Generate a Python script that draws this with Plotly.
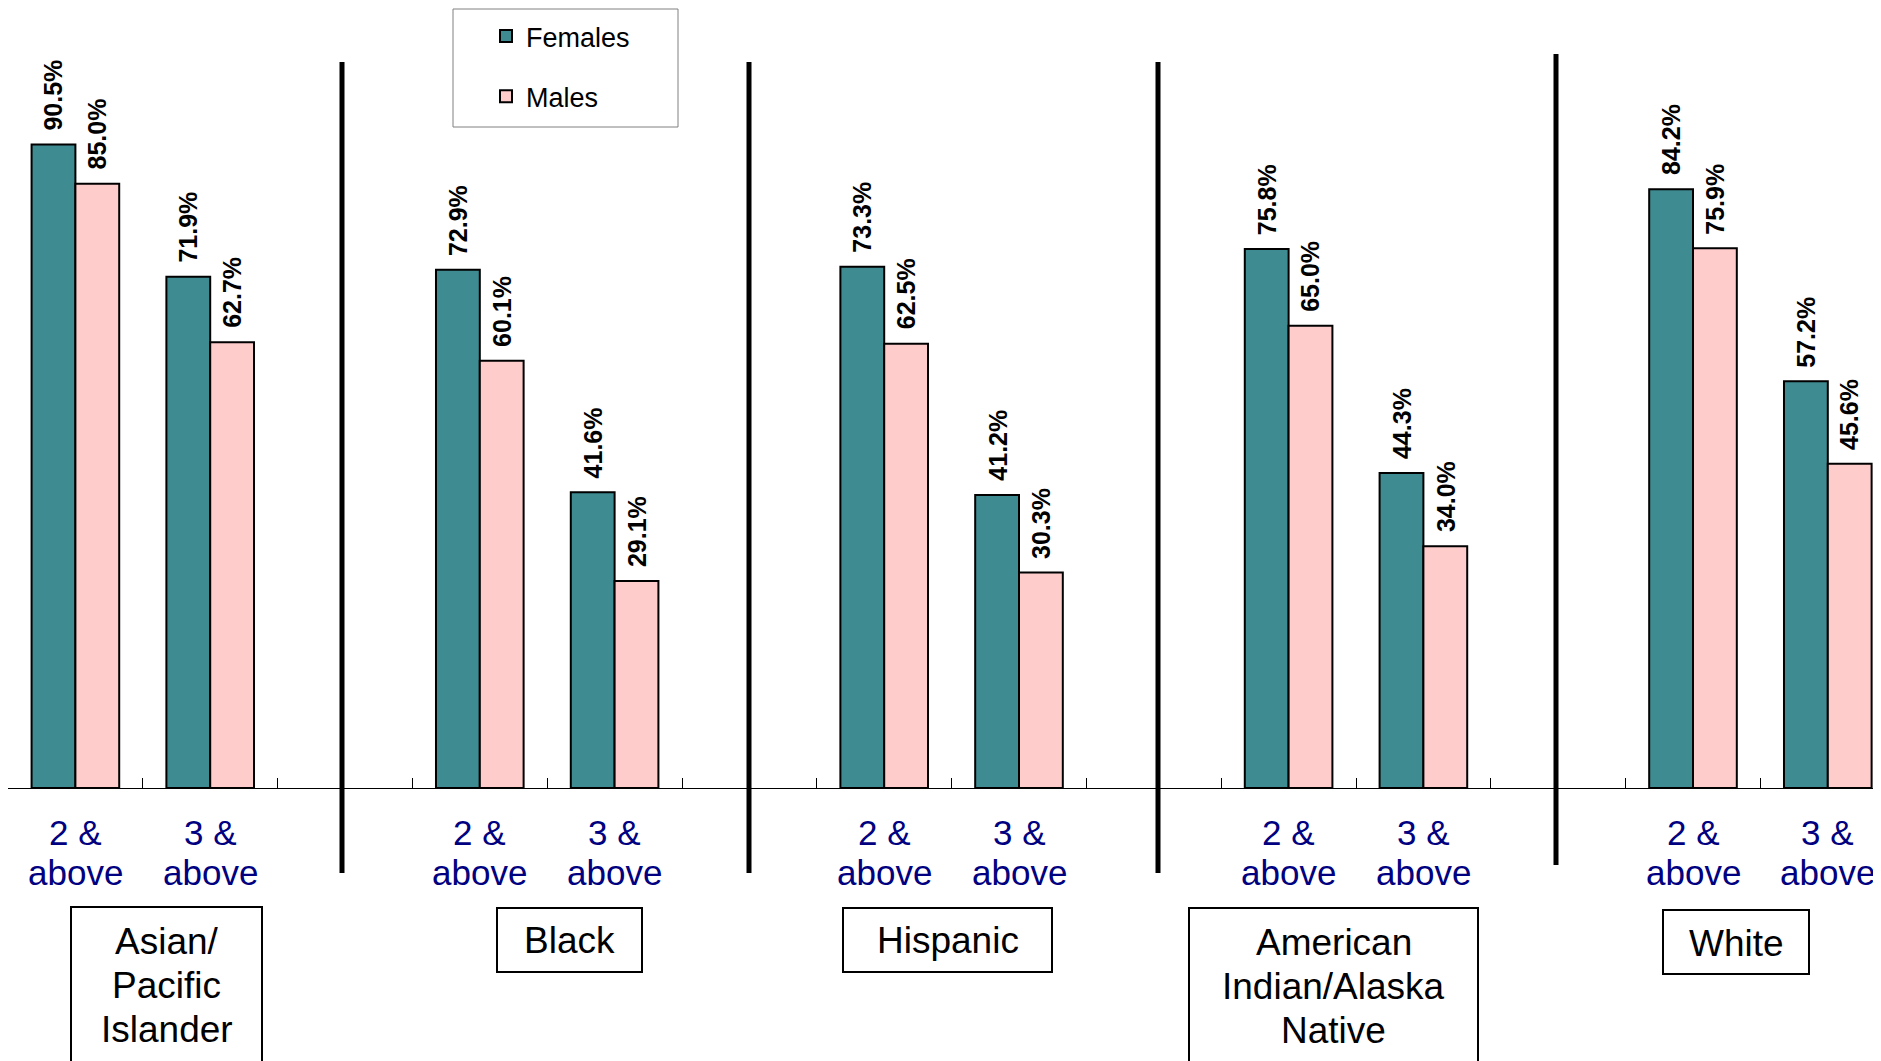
import plotly.graph_objects as go

# ---------------- data ----------------
groups = ["Asian/<br>Pacific<br>Islander", "Black", "Hispanic",
          "American<br>Indian/Alaska<br>Native", "White"]
levels_top = ["2 &", "3 &"]
levels_bottom = ["above", "above"]
females = [90.5, 71.9, 72.9, 41.6, 73.3, 41.2, 75.8, 44.3, 84.2, 57.2]
males = [85.0, 62.7, 60.1, 29.1, 62.5, 30.3, 65.0, 34.0, 75.9, 45.6]

# ---------------- geometry helpers ----------------
W, H = 1881, 1061
OFF = 8            # page body margin
BASE = 788 - OFF   # baseline, figure pixels
PL, PR, PT, PB = 0, 0, 0, H - BASE
pw = W - PL - PR
ph = H - PT - PB
SLOT = 134.8       # pixels per category slot
PX_PER_PCT = 7.11


def px(xpix):  # screenshot pixel -> paper x
    return (xpix - OFF - PL) / pw


def py(ypix):  # screenshot pixel -> paper y
    return (BASE - (ypix - OFF)) / ph


# category slot positions: two levels per group, blank slot between groups
xs = [3 * g + l for g in range(len(groups)) for l in range(len(levels_top))]

FEM = "#3E8B91"
MAL = "#FFCCCC"
FONT = "Arial, Liberation Sans, sans-serif"

fig = go.Figure()
fig.add_trace(go.Bar(x=xs, y=females, name="Females", legendgroup="f",
                     marker=dict(color=FEM, line=dict(color="black", width=2))))
fig.add_trace(go.Bar(x=xs, y=males, name="Males", legendgroup="m",
                     marker=dict(color=MAL, line=dict(color="black", width=2))))

BARGAP = 0.35
half = (1 - BARGAP) / 4
annotations = []
# value labels
for x, f, m in zip(xs, females, males):
    for off, v in ((-half, f), (half, m)):
        annotations.append(dict(x=x + off, y=v, xref="x", yref="y",
                                text=f"{v:.1f}%", textangle=-90, showarrow=False,
                                xanchor="center", yanchor="bottom", yshift=12,
                                font=dict(family=FONT, size=25, color="black", weight="bold")))
# category tick labels (two lines each)
for i, x in enumerate(xs):
    annotations.append(dict(x=x, y=py(832), xref="x", yref="paper", text=levels_top[i % 2],
                            showarrow=False, xanchor="center", yanchor="middle",
                            font=dict(family=FONT, size=35, color="#000080")))
    annotations.append(dict(x=x, y=py(872), xref="x", yref="paper", text=levels_bottom[i % 2],
                            showarrow=False, xanchor="center", yanchor="middle",
                            font=dict(family=FONT, size=35, color="#000080")))

# group boxes
boxes = [(71, 262, 907, 1080), (497, 642, 908, 972), (843, 1052, 908, 972),
         (1189, 1478, 908, 1080), (1663, 1809, 910, 974)]
text_y = [985, 940, 940, 986, 943]
LINE = 44
shapes = []
for g, (x0, x1, y0, y1), ty in zip(groups, boxes, text_y):
    shapes.append(dict(type="rect", xref="paper", yref="paper", x0=px(x0), x1=px(x1),
                       y0=py(y1), y1=py(y0), line=dict(color="black", width=2),
                       fillcolor="rgba(0,0,0,0)"))
    lines = g.split("<br>")
    n = len(lines)
    for k, ln in enumerate(lines):
        yy = ty + (k - (n - 1) / 2) * LINE
        annotations.append(dict(x=px((x0 + x1) / 2), y=py(yy), xref="paper", yref="paper",
                                text=ln, showarrow=False, xanchor="center", yanchor="middle",
                                font=dict(family=FONT, size=37, color="black")))

# dividers
for xpix, top, bot in [(342, 62, 873), (749, 62, 873), (1158, 62, 873), (1556, 54, 865)]:
    shapes.append(dict(type="line", xref="paper", yref="paper", x0=px(xpix), x1=px(xpix),
                       y0=py(bot), y1=py(top), line=dict(color="black", width=5)))

# legend box
shapes.append(dict(type="rect", xref="paper", yref="paper", x0=px(453), x1=px(678),
                   y0=py(127), y1=py(9), line=dict(color="#808080", width=1),
                   fillcolor="rgba(0,0,0,0)"))

fig.update_layout(
    width=W, height=H,
    margin=dict(l=PL, r=PR, t=PT, b=PB, pad=0),
    paper_bgcolor="white", plot_bgcolor="white",
    barmode="group", bargap=BARGAP, bargroupgap=0,
    showlegend=True,
    legend=dict(x=px(486), y=py(12), xanchor="left", yanchor="top",
                traceorder="grouped", tracegroupgap=22, bgcolor="rgba(0,0,0,0)",
                font=dict(family=FONT, size=27, color="black"), borderwidth=0),
    xaxis=dict(range=[-0.5, -0.5 + pw / SLOT], showline=True, linecolor="black", linewidth=1,
               ticks="inside", ticklen=10, tickcolor="black", tickwidth=1,
               tickvals=[k - 0.5 for k in range(15)], showticklabels=False,
               showgrid=False, zeroline=False, fixedrange=True),
    yaxis=dict(range=[0, BASE / PX_PER_PCT], visible=False, showgrid=False,
               zeroline=False, fixedrange=True),
    shapes=shapes, annotations=annotations,
)

fig.write_html("out.html")
